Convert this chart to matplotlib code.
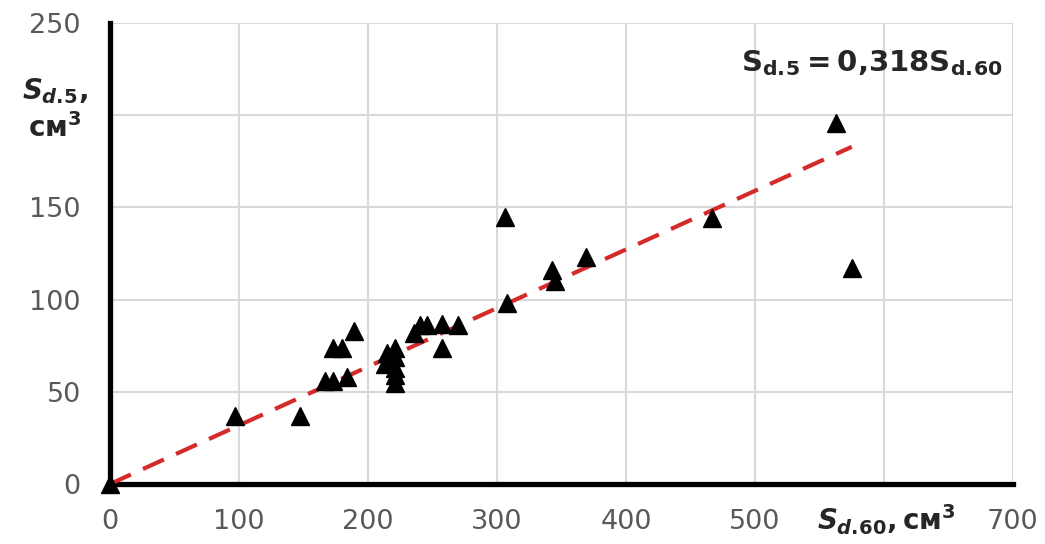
import matplotlib
matplotlib.use("Agg")
import matplotlib.pyplot as plt
import matplotlib.transforms as mtransforms

plt.rcParams['font.family'] = 'DejaVu Sans'
plt.rcParams['mathtext.fontset'] = 'custom'
plt.rcParams['mathtext.rm'] = 'DejaVu Sans:bold'
plt.rcParams['mathtext.bf'] = 'DejaVu Sans:bold'
plt.rcParams['mathtext.it'] = 'DejaVu Sans:italic:bold'

# Sd.60 vs Sd.5, cm3
sd60 = [0, 97, 147, 167, 173, 184, 173, 180, 189, 213, 215, 221, 221, 221, 221, 221,
        236, 240, 246, 257, 257, 270, 306, 308, 343, 345, 369, 467, 563, 575]
sd5 = [0, 37, 37, 56, 56, 58, 74, 74, 83, 65, 71, 55, 59, 63, 69, 74,
       82, 86, 86, 87, 74, 86, 145, 98, 116, 110, 123, 144, 196, 117]
slope = 0.318

x_ticks = [0, 100, 200, 300, 400, 500, 600, 700]
x_labels = ['0', '100', '200', '300', '400', '500', '', '700']
y_ticks = [0, 50, 100, 150, 200, 250]
y_labels = ['0', '50', '100', '150', '', '250']

fig = plt.figure(figsize=(10.45, 5.44), dpi=100)
ax = fig.add_axes([110 / 1045, 1 - 484 / 544, 903 / 1045, 461 / 544])

ax.set_xlim(0, 700)
ax.set_ylim(0, 250)
ax.set_xticks(x_ticks)
ax.set_xticklabels(x_labels)
ax.set_yticks(y_ticks)
ax.set_yticklabels(y_labels)
ax.tick_params(length=0, labelsize=19.5, labelcolor='#595959')
ax.tick_params(axis='x', pad=18)
ax.tick_params(axis='y', pad=21)

ax.grid(True, color='#d9d9d9', linewidth=1.5)
ax.set_axisbelow(True)
for side in ['top', 'right']:
    ax.spines[side].set_visible(False)
for side in ['left', 'bottom']:
    ax.spines[side].set_linewidth(3.8)
    ax.spines[side].set_color('black')

# trend line through origin
xmax = max(sd60)
ax.plot([0, xmax], [0, slope * xmax], color='#d42a2a', linewidth=3,
        linestyle=(0, (5.5, 3.2)), zorder=3)

ax.plot(sd60, sd5, linestyle='none', marker='^', markersize=13,
        color='black', zorder=4, clip_on=False)

ax.text(692, 228, r'$\mathrm{S_{d{.}\!5} = 0{,}318S_{d{.}\!60}}$', fontsize=21,
        color='#262626', ha='right', va='center')

# axis titles sit in place of the 200 and 600 tick labels
ytr = mtransforms.blended_transform_factory(ax.transAxes, ax.transData)
ax.text(-0.061, 203, r'$\mathit{S_{d{.}\!5}},$' + '\n' + r'$\mathrm{см}^{3}$',
        transform=ytr, fontsize=20, color='#262626', ha='center', va='center',
        linespacing=1.3)
xtr = mtransforms.blended_transform_factory(ax.transData, ax.transAxes)
ax.text(602, -0.078, r'$\mathit{S_{d{.}\!60}}{,}\,\mathrm{см}^{3}$', transform=xtr,
        fontsize=20, color='#262626', ha='center', va='center')

fig.savefig('out.png', dpi=100)
